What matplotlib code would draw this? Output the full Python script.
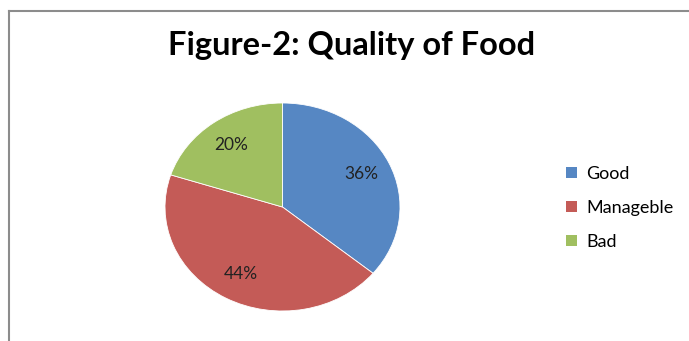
import matplotlib.pyplot as plt
from matplotlib.lines import Line2D
from matplotlib.patches import Patch

plt.rcParams['font.family'] = ['Lato', 'DejaVu Sans']

labels = ['Good', 'Manageble', 'Bad']
shares = [36, 44, 20]
colors = ['#5687C3', '#C45B57', '#A0BF60']

W, H = 689, 341
fig = plt.figure(figsize=(W / 100, H / 100), dpi=100)

# chart area frame (only left and top edges are inside the image)
fig.add_artist(Line2D([9 / W, 9 / W], [0, 1 - 11 / H], color='#8c8c8c', lw=1.5))
fig.add_artist(Line2D([9 / W, 1], [1 - 11 / H, 1 - 11 / H], color='#8c8c8c', lw=1.5))

fig.text(352 / W, 1 - 46 / H, 'Figure-2: Quality of Food', ha='center', va='center',
         fontsize=23.5, fontweight='bold', color='black')

# slightly stretched pie, as in the spreadsheet chart
ax = fig.add_axes([165 / W, 1 - 311 / H, 235 / W, 208 / H])
wedges, texts, autotexts = ax.pie(shares, colors=colors, startangle=90, counterclock=False,
                                  autopct='%d%%', pctdistance=0.74,
                                  wedgeprops=dict(linewidth=0.6, edgecolor='white'),
                                  textprops=dict(fontsize=12.5, color='#222222'))
ax.set_aspect('auto')
ax.set_xlim(-1, 1)
ax.set_ylim(-1, 1)
ax.axis('off')

handles = [Patch(facecolor=c, edgecolor='none') for c in colors]
fig.legend(handles, labels, loc='center left', bbox_to_anchor=(550 / W, 1 - 208 / H),
           frameon=False, fontsize=13, handlelength=0.6, handleheight=0.6,
           handletextpad=0.5, labelspacing=1.0)

fig.savefig('out.png', dpi=100)
